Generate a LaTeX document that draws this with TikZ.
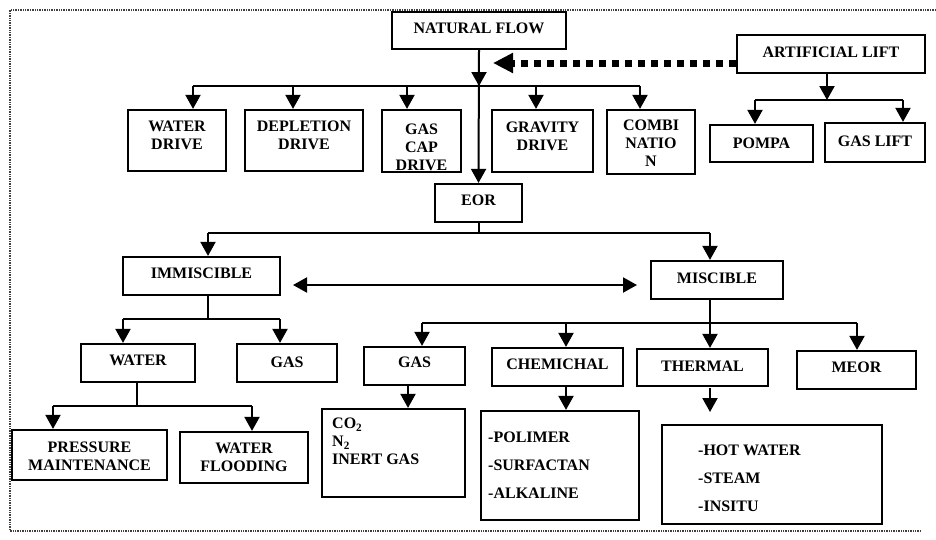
\documentclass[tikz,border=0pt]{standalone}
\usepackage{fontspec}
\setmainfont{Liberation Serif}
\usetikzlibrary{arrows.meta,calc}
\newcommand\lbl{\bfseries\fontsize{16}{18}\selectfont}
\newcommand\lbllist{\bfseries\fontsize{16}{28}\selectfont}
\newcommand\mline[2]{\raisebox{#1}[\height][\depth]{\begin{tabular}{@{}c@{}}#2\end{tabular}}}
\begin{document}
\begin{tikzpicture}[x=1pt,y=-1pt,
  box/.style={draw,line width=2.2pt,inner sep=0pt,align=center,font=\lbl},
  td/.style={text depth=#1},
  conn/.style={line width=2pt},
  arr/.style={line width=2pt,-{Triangle[width=15pt,length=14pt]}},
  darr/.style={line width=2pt,{Triangle[width=15pt,length=14pt]}-{Triangle[width=15pt,length=14pt]}},
  dotarr/.style={line width=7pt,dash pattern=on 7pt off 6pt,-{Triangle[width=19pt,length=20pt]}},
  framestyle/.style={line width=1.6pt,black!75,dash pattern=on 1.4pt off 1pt},
  listtext/.style={inner sep=0pt,anchor=north west,align=left}]
\useasboundingbox (0,0) rectangle (936,539);
% frame
\draw[framestyle] (936,10) -- (10,10) -- (10,531) -- (922,531);

% boxes
\node[box,td=5pt,minimum width=174pt,minimum height=37pt] (nf) at (479,30.5) {NATURAL FLOW};
\node[box,minimum width=98pt,minimum height=61pt] (wd) at (177,140.5) {\mline{3.3pt}{WATER\\DRIVE}};
\node[box,minimum width=118pt,minimum height=61pt] (dd) at (304,140.5) {\mline{3.3pt}{DEPLETION\\DRIVE}};
\node[box,minimum width=79pt,minimum height=62pt,
  path picture={\node[font=\lbl,align=center,inner sep=0pt,yshift=-6pt] at (path picture bounding box.center) {GAS\\CAP\\DRIVE};}] (gc) at (421.5,141) {};
\node[box,minimum width=101pt,minimum height=62pt] (gd) at (542.5,141) {\mline{3.3pt}{GRAVITY\\DRIVE}};
\node[box,minimum width=88pt,minimum height=64pt] (cb) at (651,142) {\mline{-3.2pt}{COMBI\\NATIO\\N}};
\node[box,td=4pt,minimum width=188pt,minimum height=38pt] (al) at (831,54) {ARTIFICIAL LIFT};
\node[box,minimum width=103pt,minimum height=37pt] (pompa) at (761.5,143.5) {POMPA};
\node[box,td=3pt,minimum width=100pt,minimum height=39pt] (gl) at (875,142.5) {GAS LIFT};
\node[box,td=5pt,minimum width=87pt,minimum height=38pt] (eor) at (478.5,203) {EOR};
\node[box,td=5pt,minimum width=157pt,minimum height=38pt] (imm) at (201.5,276) {IMMISCIBLE};
\node[box,td=4pt,minimum width=132pt,minimum height=38pt] (mis) at (717,280) {MISCIBLE};
\node[box,td=6pt,minimum width=114pt,minimum height=38pt] (water) at (138,363) {WATER};
\node[box,td=1pt,minimum width=100pt,minimum height=38pt] (gasa) at (287,363) {GAS};
\node[box,td=7pt,minimum width=101pt,minimum height=38pt] (gasb) at (414.5,366) {GAS};
\node[box,td=5pt,minimum width=131pt,minimum height=38pt] (chem) at (557.5,367) {CHEMICHAL};
\node[box,td=2pt,minimum width=131pt,minimum height=37pt] (th) at (702.5,367.5) {THERMAL};
\node[box,td=5pt,minimum width=119pt,minimum height=38pt] (meor) at (856.5,370) {MEOR};
\node[box,minimum width=155pt,minimum height=50pt] (pm) at (89.5,455) {\mline{-2.4pt}{PRESSURE\\MAINTENANCE}};
\node[box,minimum width=128pt,minimum height=51pt] (wf) at (244,457.5) {\mline{-1.4pt}{WATER\\FLOODING}};
\node[box,minimum width=143pt,minimum height=88pt] (co2) at (393.5,453) {};
\node[box,minimum width=158pt,minimum height=109pt] (chl) at (560,465.5) {};
\node[box,minimum width=220pt,minimum height=99pt] (thl) at (772,474.5) {};

% list texts
\node[listtext,font=\lbl] (co2t) at (332,418) {CO\textsubscript{2}\\N\textsubscript{2}\\INERT GAS};
\node[listtext,font=\lbllist] (chlt) at (488,431.5) {-POLIMER\\-SURFACTAN\\-ALKALINE};
\node[listtext,font=\lbllist] (thlt) at (698,444.5) {-HOT WATER\\-STEAM\\-INSITU};

% natural flow tree
\coordinate (b1m) at (479,86);
\coordinate (b1a) at (193,86);
\coordinate (b1b) at (293,86);
\coordinate (b1c) at (407,86);
\coordinate (b1d) at (536,86);
\coordinate (b1e) at (640,86);
\draw[conn] (b1a) -- (b1e);
\draw[arr] (nf.south) -- (b1m);
\draw[arr] (nf.south) -- (eor.north);
\draw[arr] (b1a) -- (b1a |- wd.north);
\draw[arr] (b1b) -- (b1b |- dd.north);
\draw[arr] (b1c) -- (b1c |- gc.north);
\draw[arr] (b1d) -- (b1d |- gd.north);
\draw[arr] (b1e) -- (b1e |- cb.north);

% artificial lift
\coordinate (dtip) at (493,63);
\draw[dotarr] (al.west |- dtip) -- (dtip);
\coordinate (alx) at (827,73);
\coordinate (b2m) at (827,100);
\coordinate (b2a) at (755,100);
\coordinate (b2b) at (903,100);
\draw[arr] (alx) -- (b2m);
\draw[conn] (b2a) -- (b2b);
\draw[arr] (b2a) -- (b2a |- pompa.north);
\draw[arr] (b2b) -- (b2b |- gl.north);

% EOR
\coordinate (b3a) at (208,233);
\coordinate (b3b) at (710,233);
\draw[conn] (eor.south) -- (eor.south |- b3a);
\draw[conn] (b3a) -- (b3b);
\draw[arr] (b3a) -- (b3a |- imm.north);
\draw[arr] (b3b) -- (b3b |- mis.north);
\coordinate (dl) at (293,285);
\coordinate (dr) at (637,285);
\draw[darr] (dl) -- (dr);

% immiscible
\coordinate (b4m) at (208,319);
\coordinate (b4a) at (123,319);
\coordinate (b4b) at (280,319);
\draw[conn] (b4m |- imm.south) -- (b4m);
\draw[conn] (b4a) -- (b4b);
\draw[arr] (b4a) -- (b4a |- water.north);
\draw[arr] (b4b) -- (b4b |- gasa.north);

% miscible
\coordinate (b5a) at (422,323);
\coordinate (b5b) at (566,323);
\coordinate (b5c) at (710,323);
\coordinate (b5d) at (857,323);
\draw[conn] (b5c |- mis.south) -- (b5c);
\draw[conn] (b5a) -- (b5d);
\draw[arr] (b5a) -- (b5a |- gasb.north);
\draw[arr] (b5b) -- (b5b |- chem.north);
\draw[arr] (b5c) -- (b5c |- th.north);
\draw[arr] (b5d) -- (b5d |- meor.north);

% water
\coordinate (b6m) at (137,406);
\coordinate (b6a) at (53,406);
\coordinate (b6b) at (252,406);
\draw[conn] (b6m |- water.south) -- (b6m);
\draw[conn] (b6a) -- (b6b);
\draw[arr] (b6a) -- (b6a |- pm.north);
\draw[arr] (b6b) -- (b6b |- wf.north);

% lower arrows
\coordinate (c1) at (408,385);
\draw[arr] (c1) -- (c1 |- co2.north);
\coordinate (c2) at (566,386);
\draw[arr] (c2) -- (c2 |- chl.north);
\coordinate (c3) at (710,388);
\coordinate (c3t) at (710,412);
\draw[arr] (c3) -- (c3t);
\end{tikzpicture}
\end{document}
